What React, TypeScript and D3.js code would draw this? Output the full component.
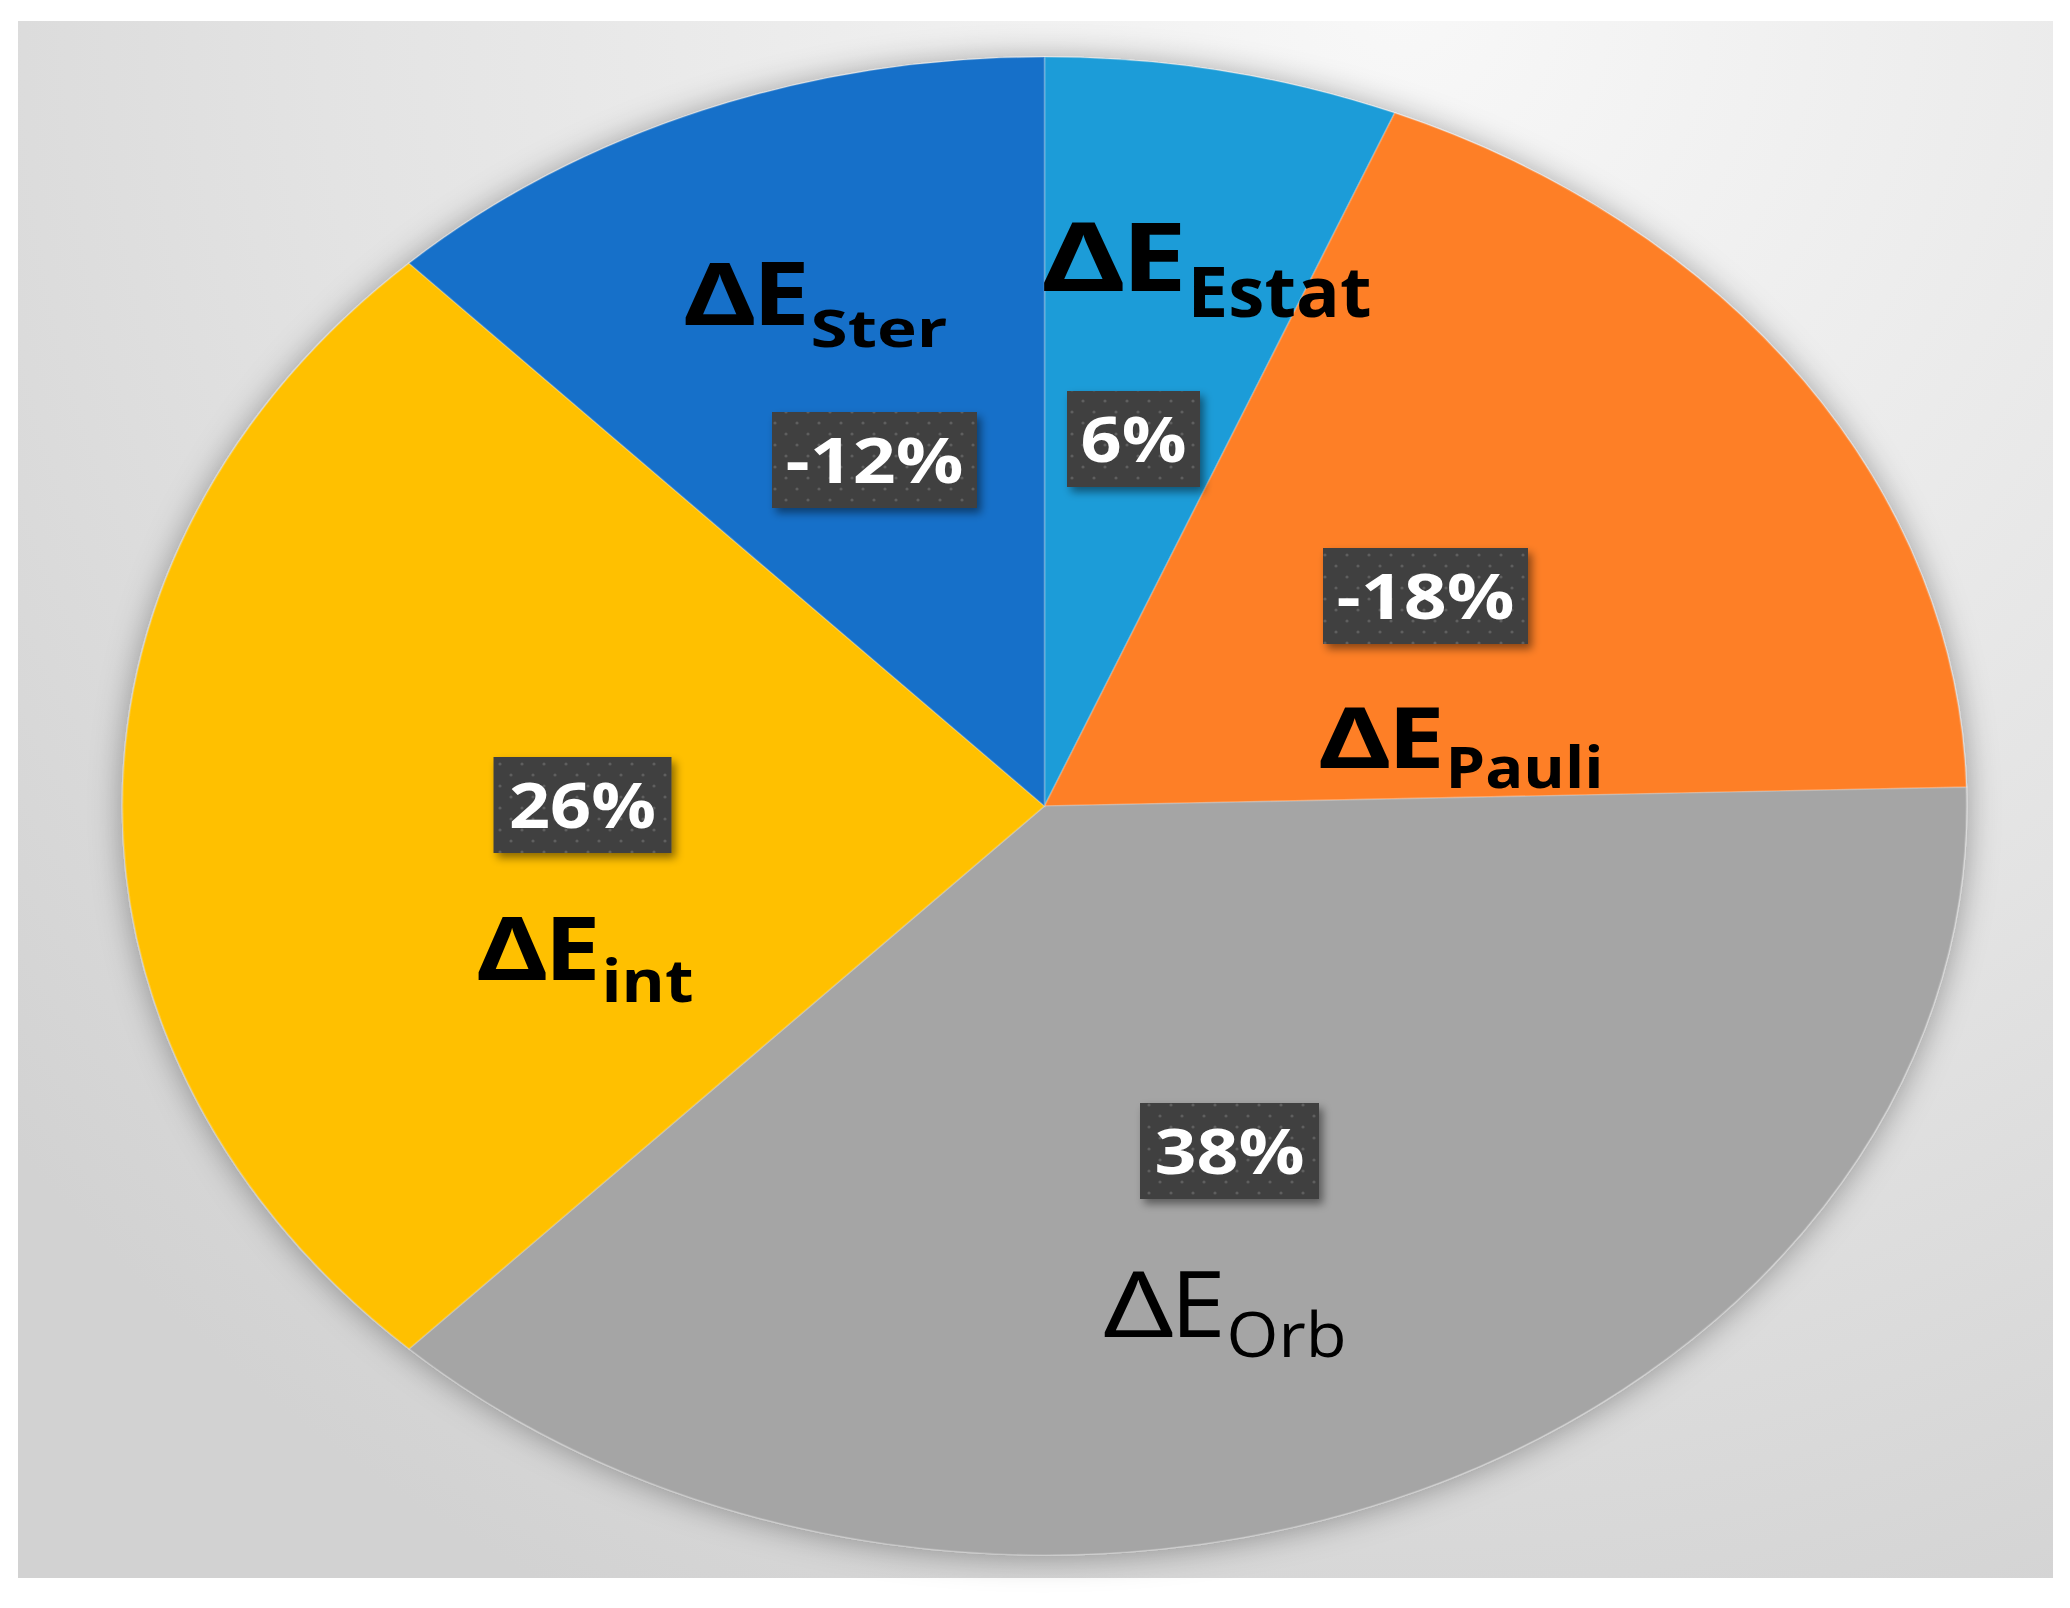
import React, { useRef, useLayoutEffect, useState } from 'react';
import * as d3 from 'd3';

// energy decomposition shares (%), sign kept for the label
const sliceNames = ['Estat', 'Pauli', 'Orb', 'int', 'Ster'];
const sliceValues = [6.2, -18.4, 37.5, 25.8, -12.1];
const pctLabels = ['6%', '-18%', '38%', '26%', '-12%'];

const sliceColors = ['#1a9cd8', '#fe7f27', '#a5a5a5', '#ffc000', '#1570c9'];

// label layout, relative to pie centre (manually placed in the original)
const boxPos = [[89, -367], [381, -210], [185, 345], [-462, -1], [-170, -346]];
const boxWidth = [133, 205, 179, 178, 205];
const pctTextLen = [106, 178, 150, 147, 178];
const namePos = [[-2, -515], [275, -38], [60, 531], [-567, 174], [-360, -481]];
const nameSize = [[95, 70], [85, 57], [91, 62], [87, 60], [87, 52]];
const nameLen = [[143, 184], [124, 158], [120, 120], [122, 92], [124, 137]];
const subDrop = [26, 20, 20, 22, 22];

const W = 2070, H = 1608;
const cx = 1044.5, cy = 806, rx = 922, ry = 749;
const FONT = '"Open Sans", "Noto Sans", sans-serif';

// text squeezed/stretched horizontally to a given width
function FitText({ x, y, width, anchor = 'start', children, ...rest }: any) {
    const ref = useRef<SVGTextElement>(null);
    const [sx, setSx] = useState(1);
    useLayoutEffect(() => {
        if (!ref.current) return;
        const w = ref.current.getBBox().width;
        if (w > 0) setSx(width / w);
    }, [width, children]);
    return (
        <text ref={ref} transform={`translate(${x},${y}) scale(${sx},1)`} x={0} y={0}
            textAnchor={anchor} {...rest}>
            {children}
        </text>
    );
}

export default function App() {
    const pie = d3.pie<number>().sort(null).value(d => Math.abs(d));
    const arcs = pie(sliceValues);
    const arc = d3.arc<d3.PieArcDatum<number>>().innerRadius(0).outerRadius(rx);

    return (
        <svg width={W} height={H} style={{ position: 'absolute', left: 0, top: 0 }}>
            <defs>
                <radialGradient id="bg" gradientUnits="userSpaceOnUse" cx={1400} cy={0} r={1800}>
                    <stop offset="0" stopColor="#f8f8f8" />
                    <stop offset="0.6" stopColor="#e3e3e3" />
                    <stop offset="1" stopColor="#d2d2d2" />
                </radialGradient>
                <filter id="pieShadow" x="-10%" y="-10%" width="120%" height="120%">
                    <feDropShadow dx="0" dy="2" stdDeviation="16" floodColor="#000" floodOpacity="0.35" />
                </filter>
                <filter id="boxShadow" x="-20%" y="-20%" width="150%" height="160%">
                    <feDropShadow dx="4" dy="5" stdDeviation="4" floodColor="#000" floodOpacity="0.45" />
                </filter>
                <pattern id="dots" width="22" height="22" patternUnits="userSpaceOnUse">
                    <rect width="22" height="22" fill="#404040" />
                    <circle cx="5" cy="5" r="1.6" fill="#5e5e5e" />
                    <circle cx="16" cy="16" r="1.6" fill="#5e5e5e" />
                </pattern>
            </defs>

            <rect x={0} y={0} width={W} height={H} fill="#fff" />
            <rect x={18} y={21} width={2035} height={1557} fill="url(#bg)" />

            <g filter="url(#pieShadow)">
                <g transform={`translate(${cx},${cy}) scale(1,${ry / rx})`}>
                    {arcs.map((a, i) => (
                        <path key={i} d={arc(a) || ''} fill={sliceColors[i]}
                            stroke="rgba(255,255,255,0.18)" strokeWidth={2} />
                    ))}
                </g>
            </g>

            {arcs.map((a, i) => {
                const [bx, by] = boxPos[i];
                const [nx, ny] = namePos[i];
                const bw = boxWidth[i], bh = 96;
                const L = nameLen[i][0];
                const bold = sliceNames[i] === 'Orb' ? 400 : 700;
                return (
                    <g key={'lab' + i} fontFamily={FONT}>
                        <rect x={cx + bx - bw / 2} y={cy + by - bh / 2} width={bw} height={bh}
                            fill="url(#dots)" filter="url(#boxShadow)" />
                        <FitText x={cx + bx} y={cy + by + 23} anchor="middle" width={pctTextLen[i]}
                            fill="#fff" fontSize={63} fontWeight={700}>
                            {pctLabels[i]}
                        </FitText>
                        <FitText x={cx + nx - 2} y={cy + ny} width={L * 0.6}
                            fill="#000" fontSize={nameSize[i][0]} fontWeight={bold}>
                            Δ
                        </FitText>
                        <FitText x={cx + nx + L * 0.55} y={cy + ny} width={L * 0.46}
                            fill="#000" fontSize={nameSize[i][0]} fontWeight={bold}>
                            E
                        </FitText>
                        <FitText x={cx + nx + L + 2} y={cy + ny + subDrop[i]} width={nameLen[i][1]}
                            fill="#000" fontSize={nameSize[i][1]} fontWeight={bold}>
                            {sliceNames[i]}
                        </FitText>
                    </g>
                );
            })}
        </svg>
    );
}
